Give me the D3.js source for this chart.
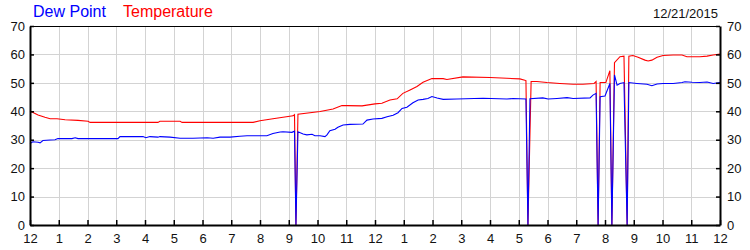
<!DOCTYPE html>
<html><head><meta charset="utf-8">
<script src="https://cdn.jsdelivr.net/npm/d3@7"></script>
<style>
body{margin:0;background:#fff}
svg{display:block}
text{font-family:Arial,"Liberation Sans",sans-serif}
</style>
</head><body>
<svg id="chart" width="750" height="250"></svg>
<script>
// ---- data (hours after midnight, °F) ----
const tempHours = [0,0.28,0.52,0.70,0.94,1.22,1.67,2.02,2.09,4.45,4.52,5.22,5.29,7.76,8.00,8.45,8.80,9.15,9.20,9.25,9.32,10.09,10.54,10.85,11.03,11.55,12.00,12.24,12.52,12.77,12.97,13.22,13.46,13.67,13.98,14.37,14.50,15.06,16.00,16.59,17.04,17.25,17.32,17.43,17.63,17.98,18.43,18.89,19.23,19.62,19.69,19.76,19.83,20.03,20.17,20.24,20.33,20.52,20.66,20.77,20.83,20.97,21.15,21.39,21.50,21.63,21.81,22.02,22.37,22.68,22.85,23.30,23.55,23.76,24.00];
const tempValues = [40.1,38.7,37.9,37.4,37.4,37.0,36.8,36.5,36.1,36.1,36.5,36.5,36.1,36.1,36.7,37.4,37.9,38.4,38.8,0,39.0,39.9,40.8,42.0,42.0,41.9,42.6,42.8,44.0,44.4,46.3,47.5,48.7,50.2,51.5,51.5,51.2,52.1,51.9,51.6,51.4,50.8,0,50.5,50.5,50.1,49.8,49.5,49.5,49.8,50.5,0,50.1,50.1,54.3,0,57.1,59.2,59.4,0,59.4,59.6,59.0,58.0,57.7,58.0,59.0,59.6,59.8,59.8,59.2,59.2,59.4,59.8,60.1];
const dewHours = [0,0.10,0.28,0.35,0.45,0.70,0.87,0.97,1.46,1.57,1.67,3.06,3.13,3.93,4.03,4.17,4.45,4.52,4.87,5.22,5.67,6.16,6.37,6.61,6.96,7.30,7.55,8.24,8.45,8.70,8.80,9.11,9.20,9.25,9.32,9.50,9.63,9.81,9.91,10.09,10.26,10.33,10.43,10.61,10.71,10.89,11.13,11.58,11.72,11.93,12.24,12.42,12.63,12.80,12.94,13.11,13.32,13.50,13.67,13.84,13.98,14.16,14.37,14.85,15.76,16.59,16.80,17.25,17.32,17.39,17.84,18.02,18.33,18.68,18.89,19.48,19.58,19.69,19.76,19.83,20.00,20.17,20.24,20.33,20.42,20.52,20.66,20.77,20.83,21.11,21.46,21.63,21.81,22.02,22.37,22.68,22.78,23.03,23.30,23.55,23.76,24.00];
const dewValues = [28.7,29.3,29.1,28.9,29.7,29.9,30.0,30.4,30.4,30.7,30.4,30.4,31.1,31.1,30.7,31.1,30.9,31.1,30.9,30.5,30.5,30.7,30.5,30.9,30.9,31.2,31.4,31.4,32.2,32.7,32.8,32.6,33.0,0,32.8,32.0,31.7,31.9,31.4,31.4,31.1,31.7,33.2,33.7,34.4,35.2,35.4,35.5,36.9,37.3,37.5,38.1,38.6,39.5,41.0,41.4,43.0,44.0,44.2,44.5,45.2,44.7,44.2,44.3,44.6,44.3,44.5,44.3,0,44.4,44.7,44.3,44.5,44.8,44.5,44.7,45.7,46.3,0,45.1,45.4,49.8,0,52.8,49.2,49.8,50.1,0,50.1,49.8,49.5,49.0,49.6,49.8,49.8,50.1,50.4,50.2,50.1,50.3,49.8,50.1];
const xTickLabels = ["12","1","2","3","4","5","6","7","8","9","10","11","12","1","2","3","4","5","6","7","8","9","10","11","12"];
const yTickValues = [0,10,20,30,40,50,60,70];
const seriesNames = ["Dew Point","Temperature"];
const dateLabel = "12/21/2015";

// ---- layout ----
const svg = d3.select("#chart");
const L = 30, R = 720, T = 26, B = 225;
const x = d3.scaleLinear().domain([0, 24]).range([L, R]);
const y = d3.scaleLinear().domain([0, 70]).range([B, T]);
const xTickValues = xTickLabels.map((_, i) => i);

// gridlines
const grid = svg.append("g").attr("stroke", "#d3d3d3").attr("stroke-width", 1);
grid.selectAll("line.v").data(xTickValues.slice(1, -1)).enter().append("line")
  .attr("x1", d => Math.round(x(d)) + 0.5).attr("x2", d => Math.round(x(d)) + 0.5)
  .attr("y1", T).attr("y2", B);
grid.selectAll("line.h").data(yTickValues.slice(1, -1)).enter().append("line")
  .attr("x1", L).attr("x2", R)
  .attr("y1", d => Math.round(y(d)) + 0.5).attr("y2", d => Math.round(y(d)) + 0.5);

// top border
svg.append("line").attr("x1", L).attr("x2", R).attr("y1", T + 0.5).attr("y2", T + 0.5)
  .attr("stroke", "#000").attr("stroke-width", 1);

// series
const line = d3.line().x(d => x(d[0])).y(d => y(d[1]));
const tempData = tempHours.map((h, i) => [h, tempValues[i]]);
const dewData = dewHours.map((h, i) => [h, dewValues[i]]);
svg.append("path").datum(tempData).attr("d", line)
  .attr("fill", "none").attr("stroke", "#ff0000").attr("stroke-width", 1.1);
svg.append("path").datum(dewData).attr("d", line)
  .attr("fill", "none").attr("stroke", "#0000ff").attr("stroke-width", 1.1);

// axes
function styleAxis(g) {
  g.select(".domain").attr("stroke", "#000").attr("stroke-width", 2);
  g.selectAll(".tick line").attr("stroke", "#000").attr("stroke-width", 1.5);
  g.selectAll(".tick text").attr("fill", "#111").style("font-size", "13px")
    .style("font-family", "Arial, 'Liberation Sans', sans-serif");
}
svg.append("g").attr("transform", `translate(0,${B})`)
  .call(d3.axisBottom(x).tickValues(xTickValues).tickFormat((d, i) => xTickLabels[i])
    .tickSize(-5).tickSizeOuter(0).tickPadding(9))
  .call(styleAxis);
svg.append("g").attr("transform", `translate(${L},0)`)
  .call(d3.axisLeft(y).tickValues(yTickValues).tickSize(-4).tickSizeOuter(0).tickPadding(5))
  .call(styleAxis);
svg.append("g").attr("transform", `translate(${R},0)`)
  .call(d3.axisRight(y).tickValues(yTickValues).tickSize(-4).tickSizeOuter(0).tickPadding(7))
  .call(styleAxis);

// legend / title
svg.append("text").attr("x", 33).attr("y", 17).attr("fill", "#0000ff")
  .style("font-size", "16px").text(seriesNames[0]);
svg.append("text").attr("x", 123).attr("y", 17).attr("fill", "#ff0000")
  .style("font-size", "16px").text(seriesNames[1]);
svg.append("text").attr("x", 718).attr("y", 18).attr("text-anchor", "end").attr("fill", "#111")
  .style("font-size", "13px").text(dateLabel);
</script>
</body></html>
